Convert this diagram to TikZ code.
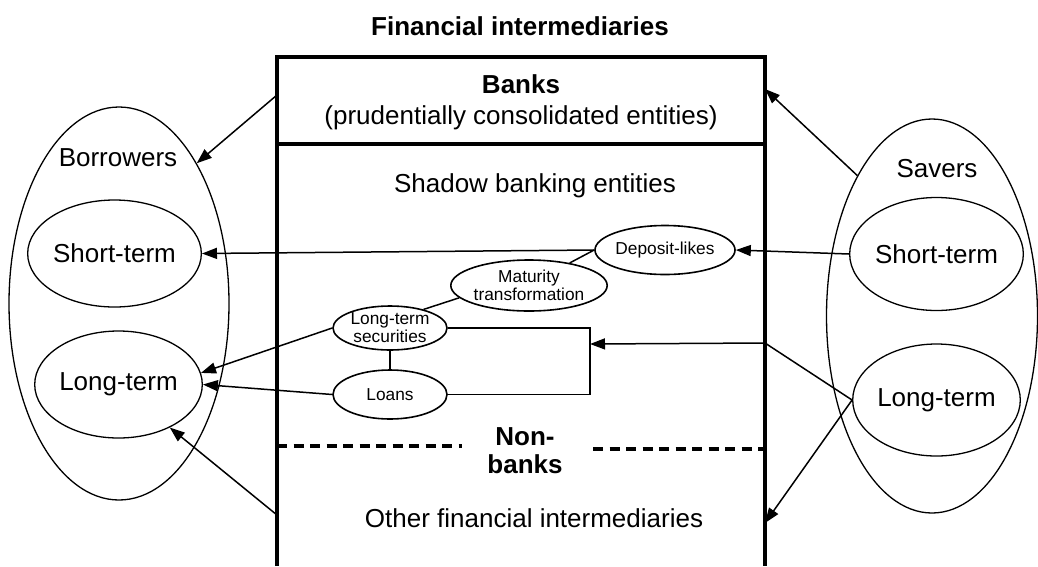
\documentclass[tikz,border=0pt]{standalone}
\usepackage{fontspec}
\setmainfont{Liberation Sans}
\usetikzlibrary{shapes.geometric,arrows.meta}

\tikzset{
  big/.style={font=\fontsize{26}{31}\selectfont, inner sep=0pt, align=center},
  small/.style={font=\fontsize{17.3}{18}\selectfont, align=center},
  group/.style={draw, ellipse, line width=1.3pt, inner sep=0pt},
  term/.style={draw, ellipse, line width=1.3pt, inner sep=0pt,
    font=\fontsize{26}{31}\selectfont},
  item/.style={draw, ellipse, line width=1.6pt, inner sep=0pt, small},
  boxline/.style={line width=4pt},
  link/.style={line width=1.5pt},
  arr/.style={line width=1.5pt, -{Triangle[length=15pt,width=11pt]}},
  split/.style={line width=3.6pt, dash pattern=on 10pt off 6.5pt},
}

\begin{document}
\begin{tikzpicture}[x=1pt, y=-1pt]
\useasboundingbox (0,0) rectangle (1038,566);

% title
\node[big, font=\fontsize{26}{31}\selectfont\bfseries] (title) at (520,26) {Financial intermediaries};

% intermediaries frame, open at the bottom
\coordinate (fTL) at (277,57);
\coordinate (fTR) at (765,57);
\coordinate (fBL) at (277,566);
\coordinate (fBR) at (765,566);
\draw[boxline] (fBL) -- (fTL) -- (fTR) -- (fBR);
\coordinate (dL) at (277,144);
\coordinate (dR) at (765,144);
\draw[boxline] (dL) -- (dR);

% frame texts
\node[big] (banks) at (521,102) {\textbf{Banks}\\(prudentially consolidated entities)};
\node[big] (shadow) at (535,186) {Shadow banking entities};
\node[big, font=\fontsize{26}{28}\selectfont\bfseries] (nonbanks) at (525,451) {Non-\\banks};
\node[big] (other) at (534,518) {Other financial intermediaries};

% dashed split between shadow banking and other intermediaries
\coordinate (sL1) at (277,446);
\coordinate (sL2) at (462,446);
\coordinate (sR1) at (593,449);
\coordinate (sR2) at (765,449);
\draw[split] (sL1) -- (sL2);
\draw[split] (sR1) -- (sR2);

% borrowers
\node[group, minimum width=220pt, minimum height=393pt] (bor) at (119,303.5) {};
\node[big] (borT) at (118,158) {Borrowers};
\node[term, minimum width=149pt, minimum height=107pt] (borST) at (114.5,253.5) {Short-term};
\node[term, minimum width=149pt, minimum height=107pt] (borLT) at (118.5,384.5) {Long-term};

% savers
\node[group, minimum width=211pt, minimum height=394pt] (sav) at (932,316) {};
\node[big] (savT) at (937,169) {Savers};
\node[term, minimum width=157pt, minimum height=113pt] (savST) at (936.5,254) {Short-term};
\node[term, minimum width=157pt, minimum height=112pt] (savLT) at (936.5,400) {Long-term};

% shadow banking items
\node[item, minimum width=114pt, minimum height=49pt] (dep) at (665,250) {Deposit-likes};
\node[item, minimum width=144pt, minimum height=51pt] (mat) at (529,285.5) {Maturity\\transformation};
\node[item, minimum width=114pt, minimum height=44pt] (lts) at (390,328) {Long-term\\securities};
\node[item, minimum width=114pt, minimum height=49pt] (loans) at (390,394.5) {Loans};

% links among items
\draw[link] (dep.west) -- (mat.29);
\draw[link] (mat.190) -- (lts.29);
\draw[link] (lts.south) -- (loans.north);
\coordinate (brk) at (590,344);
\draw[link] (lts.east) -| (brk) |- (loans.east);

% flows
\coordinate (banksL) at (277,95);
\coordinate (banksR) at (765,89);
\coordinate (otherL) at (277,515);
\coordinate (otherR) at (765,523);
\coordinate (shadowR) at (765,343);

\draw[arr] (banksL) -- (bor.61);
\draw[arr] (sav.118) -- (banksR);
\draw[arr] (savST.west) -- (dep.east);
\draw[arr] (dep.west) -- (borST.east);
\draw[arr] (savLT.west) -- (shadowR) -- (brk);
\draw[arr] (savLT.west) -- (otherR);
\draw[arr] (lts.west) -- (borLT.8);
\draw[arr] (loans.west) -- (borLT.east);
\draw[arr] (otherL) -- (borLT.-40);
\end{tikzpicture}
\end{document}
